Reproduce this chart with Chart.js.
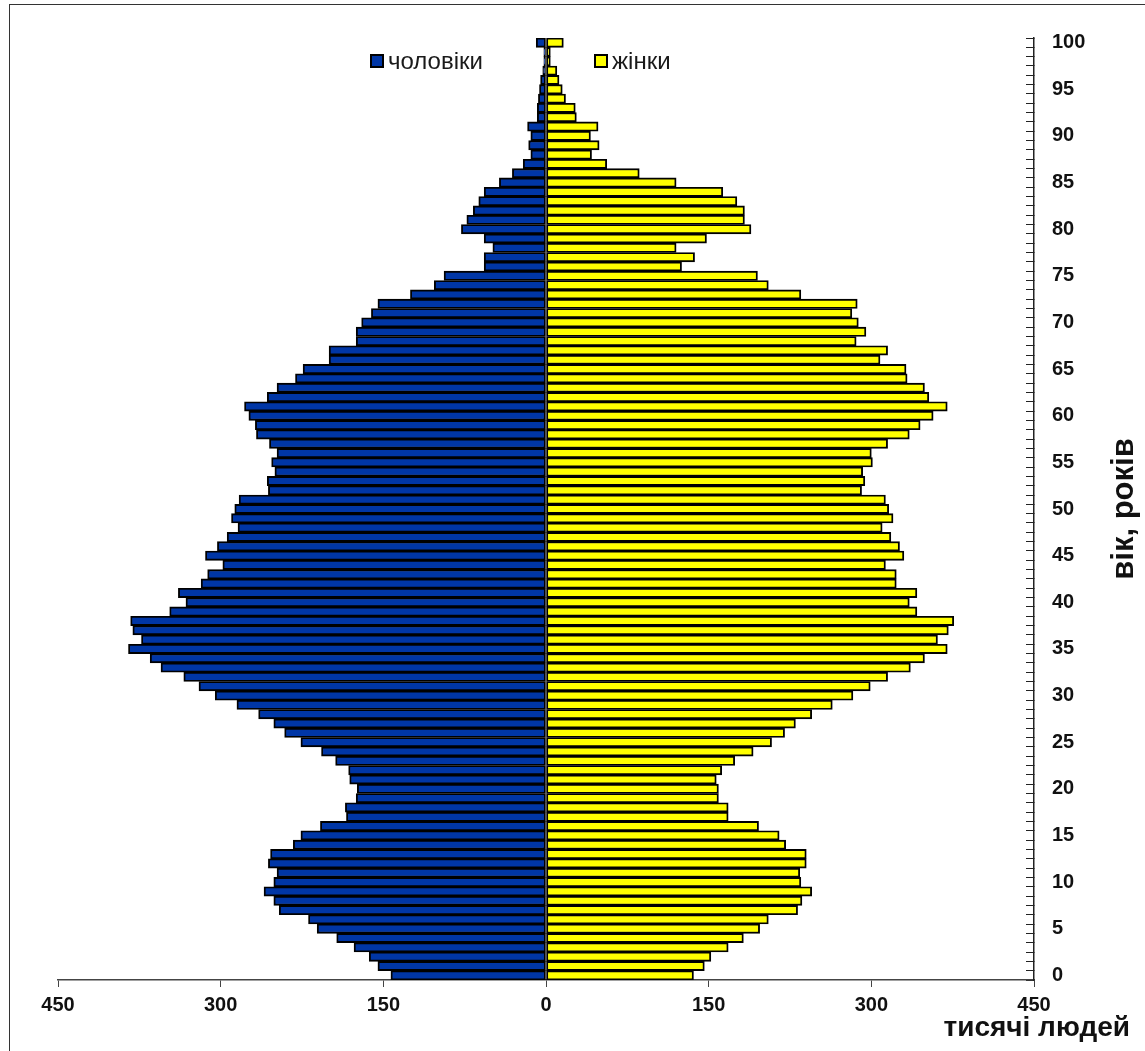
<!DOCTYPE html>
<html lang="uk">
<head>
<meta charset="utf-8">
<title>Статево-вікова піраміда</title>
<script src="https://cdn.jsdelivr.net/npm/chart.js@4.4.1/dist/chart.umd.min.js"></script>
<style>
  html, body { margin: 0; padding: 0; background: #fff; overflow: hidden; }
  #wrap { position: relative; width: 1145px; height: 1051px; }
  #frame {
    position: absolute; left: 9px; top: 4px; width: 1200px; height: 1100px;
    border-left: 1.5px solid #333; border-top: 1.5px solid #333; pointer-events: none;
  }
  .leg { position: absolute; top: 47px; font: 24px "Liberation Sans", Arial, sans-serif; color: #1a1a1a; }
  .leg i {
    display: inline-block; width: 10px; height: 10px; border: 2px solid #000;
    vertical-align: middle; margin-right: 4px; position: relative; top: -2px;
  }
</style>
</head>
<body>
<div id="wrap">
  <canvas id="pyramid" width="1145" height="1051"></canvas>
  <div id="frame"></div>
  <div class="leg" style="left:370px"><i style="background:#0036a6"></i>чоловіки</div>
  <div class="leg" style="left:594px"><i style="background:#ffff00"></i>жінки</div>
</div>
<script>
// вік, років
const ages = [
    0, 1, 2, 3, 4, 5, 6, 7, 8, 9,
    10, 11, 12, 13, 14, 15, 16, 17, 18, 19,
    20, 21, 22, 23, 24, 25, 26, 27, 28, 29,
    30, 31, 32, 33, 34, 35, 36, 37, 38, 39,
    40, 41, 42, 43, 44, 45, 46, 47, 48, 49,
    50, 51, 52, 53, 54, 55, 56, 57, 58, 59,
    60, 61, 62, 63, 64, 65, 66, 67, 68, 69,
    70, 71, 72, 73, 74, 75, 76, 77, 78, 79,
    80, 81, 82, 83, 84, 85, 86, 87, 88, 89,
    90, 91, 92, 93, 94, 95, 96, 97, 98, 99,
    100
];

// тисячі людей, за віком 0..100
const men = [
    143, 155, 163, 177, 193, 211, 219, 246, 251, 260,
    251, 248, 256, 254, 233, 226, 208, 184, 185, 175,
    174, 181, 182, 194, 207, 226, 241, 251, 265, 285,
    305, 320, 334, 355, 365, 385, 373, 381, 383, 347,
    332, 339, 318, 312, 298, 314, 303, 294, 284, 290,
    287, 283, 256, 257, 250, 253, 248, 255, 267, 268,
    274, 278, 257, 248, 231, 224, 200, 200, 175, 175,
    170, 161, 155, 125, 103, 94, 57, 57, 49, 57,
    78, 73, 67, 62, 57, 43, 31, 21, 14, 16,
    14, 17, 8, 8, 7, 6, 5, 3, 2, 2,
    9
];

const women = [
    136, 146, 152, 168, 182, 197, 205, 232, 236, 245,
    235, 234, 240, 240, 221, 215, 196, 168, 168, 159,
    159, 157, 162, 174, 191, 208, 220, 230, 245, 264,
    283, 299, 315, 336, 349, 370, 361, 371, 376, 342,
    335, 342, 323, 323, 313, 330, 326, 318, 310, 320,
    316, 313, 291, 294, 292, 301, 300, 315, 335, 345,
    357, 370, 353, 349, 333, 332, 308, 315, 286, 295,
    288, 282, 287, 235, 205, 195, 125, 137, 120, 148,
    189, 183, 183, 176, 163, 120, 86, 56, 42, 49,
    41, 48, 28, 27, 18, 15, 12, 10, 4, 4,
    16
];

const xTicksStep = 150;
const xLimit = 450;

const boldFont = {
    family: "'Liberation Sans', Arial, sans-serif",
    weight: "bold",
    size: 20
};

// підпис осі Y, читається знизу вгору
const yTitlePlugin = {
    id: "yTitle",
    afterDraw(chart) {
        const ctx = chart.ctx;
        const area = chart.chartArea;
        const yScale = chart.scales.y;
        ctx.save();
        ctx.translate(yScale.right - 6, (area.top + area.bottom) / 2);
        ctx.rotate(-Math.PI / 2);
        ctx.font = "bold 31px 'Liberation Sans', Arial, sans-serif";
        ctx.fillStyle = "#111";
        ctx.textAlign = "center";
        ctx.textBaseline = "middle";
        ctx.fillText("вік, років", 0, 0);
        ctx.restore();
    }
};

new Chart(document.getElementById("pyramid"), {
    type: "bar",
    data: {
        labels: ages,
        datasets: [
            {
                label: "чоловіки",
                data: men.map(v => -v),
                backgroundColor: "#0036a6",
                borderColor: "#000",
                borderWidth: 1.9,
                borderSkipped: false
            },
            {
                label: "жінки",
                data: women,
                backgroundColor: "#ffff00",
                borderColor: "#000",
                borderWidth: 1.9,
                borderSkipped: false
            }
        ]
    },
    options: {
        indexAxis: "y",
        responsive: false,
        animation: false,
        devicePixelRatio: 1,
        layout: {
            padding: { left: 58, right: 15, top: 34, bottom: 0 }
        },
        datasets: {
            bar: { barPercentage: 1, categoryPercentage: 1 }
        },
        plugins: {
            legend: { display: false },
            tooltip: { enabled: false },
            title: {
                display: true,
                text: "тисячі людей",
                position: "bottom",
                align: "end",
                color: "#111",
                font: { family: boldFont.family, weight: "bold", size: 28 },
                padding: { top: 0, bottom: 6 }
            }
        },
        scales: {
            x: {
                type: "linear",
                min: -xLimit,
                max: xLimit,
                stacked: true,
                grid: { drawOnChartArea: false, tickLength: 7, color: "#444" },
                border: { color: "#444", width: 1.5 },
                ticks: {
                    stepSize: xTicksStep,
                    padding: 6,
                    color: "#111",
                    font: boldFont,
                    callback: v => Math.abs(v)
                },
                afterFit: s => { s.height = 31.4; }
            },
            y: {
                type: "category",
                position: "right",
                reverse: true,
                stacked: true,
                grid: { drawOnChartArea: false, tickLength: -8, color: "#222" },
                border: { color: "#222", width: 1.5 },
                ticks: {
                    autoSkip: false,
                    padding: 26,
                    color: "#111",
                    font: boldFont,
                    callback: v => (ages[v] % 5 === 0 ? ages[v] : "")
                },
                afterFit: s => { s.width = 96; }
            }
        }
    },
    plugins: [yTitlePlugin]
});
</script>
</body>
</html>
